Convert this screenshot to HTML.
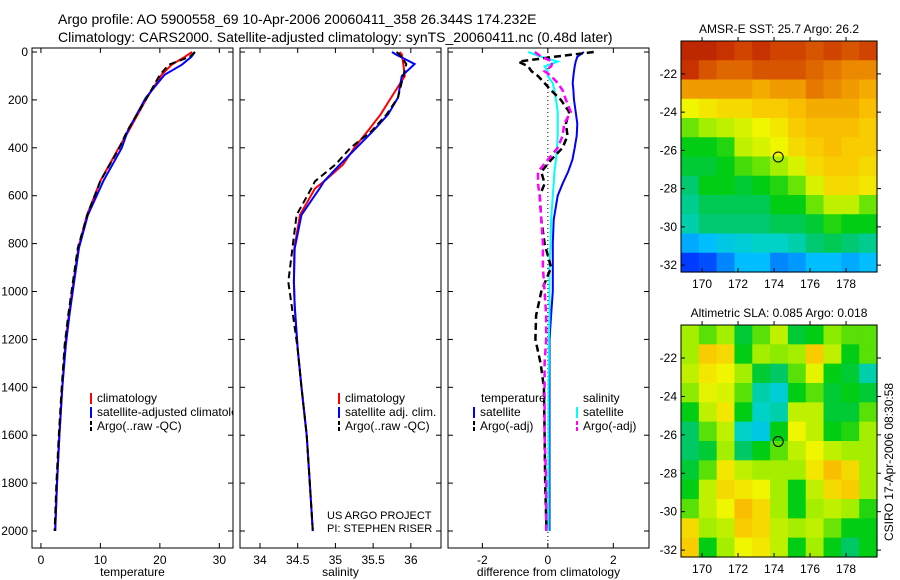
<!DOCTYPE html>
<html><head><meta charset="utf-8"><style>
body{margin:0;background:#fff;}
svg{display:block;font-family:"Liberation Sans",sans-serif;}
</style></head><body>
<svg id="fig" width="900" height="580" viewBox="0 0 900 580">
<defs><clipPath id="clip1"><rect x="32" y="48" width="201" height="500"/></clipPath></defs>
<text x="58" y="24" font-size="14">Argo profile: AO 5900558_69 10-Apr-2006 20060411_358 26.344S 174.232E</text>
<text x="58" y="42" font-size="14">Climatology: CARS2000. Satellite-adjusted climatology: synTS_20060411.nc (0.48d later)</text>
</svg>
<script>
const tempDepth=[0,20,53,95,192,330,400,538,680,818,957,1096,1221,1400,1600,1800,2000];
const tempClim=[25.4,24.2,22.0,20.3,17.8,14.75,13.1,10.0,7.75,6.3,5.5,4.7,4.1,3.6,3.1,2.7,2.4];
const tempSat=[25.9,25.3,23.7,20.8,17.6,14.6,13.6,10.5,7.9,6.4,5.6,4.8,4.2,3.6,3.1,2.7,2.4];
const tempArgo=[25.9,25.0,21.5,20.0,17.8,14.5,13.2,10.0,7.8,6.2,5.4,4.6,4.0,3.5,3.0,2.6,2.3];
const salDepth=[0,10,50,100,190,260,330,400,470,540,570,680,820,960,1060,1240,1400,1600,1800,2000];
const salClim=[35.85,35.88,35.9,35.92,35.74,35.6,35.43,35.25,35.1,34.85,34.73,34.53,34.455,34.45,34.46,34.5,34.55,34.62,34.66,34.7];
const salSat=[35.75,35.8,36.05,35.88,35.83,35.7,35.5,35.28,35.06,34.85,34.79,34.55,34.46,34.45,34.46,34.5,34.55,34.62,34.66,34.7];
const salArgo=[35.81,35.85,35.94,35.9,35.83,35.68,35.48,35.2,35.0,34.73,34.68,34.485,34.43,34.375,34.42,34.5,34.55,34.62,34.66,34.7];
const diffDepth=[0,20,40,60,80,100,130,160,200,250,300,350,400,450,500,550,600,700,800,900,1000,1100,1200,1300,1400,1600,1800,2000];
const diffTempSat=[1.1,0.9,0.85,0.82,0.8,0.78,0.76,0.78,0.8,0.85,0.9,0.88,0.82,0.75,0.62,0.45,0.3,0.18,0.15,0.15,0.15,0.1,0.05,0.05,0.05,0.05,0.05,0.05];
const diffSalSat=[-0.6,-0.2,0.3,-0.1,0.0,0.0,0.15,0.2,0.25,0.3,0.3,0.3,0.28,0.25,0.2,0.18,0.15,0.1,0.08,0.05,0.05,0.05,0.03,0.03,0.02,0.02,0.02,0.02];
const diffTempArgo=[1.4,0.2,-0.9,-0.6,-0.5,-0.3,-0.1,0.1,0.4,0.65,0.55,0.6,0.45,0.1,-0.2,-0.1,-0.25,-0.2,-0.1,0.1,-0.2,-0.36,-0.38,-0.22,-0.12,-0.1,-0.08,-0.04];
const diffSalArgo=[-0.4,-0.2,0.15,0.1,-0.1,0.1,0.3,0.45,0.55,0.7,0.5,0.45,0.3,0.0,-0.3,-0.3,-0.25,-0.2,-0.15,-0.15,-0.1,-0.05,-0.05,-0.1,-0.1,-0.1,-0.05,-0.05];
const depthTicks=[0,200,400,600,800,1000,1200,1400,1600,1800,2000];
const tempTicks=[0,10,20,30];
const salTicks=[34,34.5,35,35.5,36];
const diffTicks=[-2,0,2];
const sstGrid=[
[0.92,0.92,0.9,0.88,0.9,0.88,0.88,0.86,0.88,0.86,0.88],
[0.9,0.86,0.84,0.84,0.86,0.86,0.86,0.84,0.82,0.8,0.8],
[0.78,0.78,0.78,0.78,0.76,0.78,0.78,0.82,0.8,0.78,0.76],
[0.66,0.68,0.7,0.7,0.72,0.72,0.74,0.76,0.76,0.76,0.74],
[0.56,0.6,0.62,0.64,0.66,0.68,0.72,0.74,0.74,0.74,0.72],
[0.5,0.5,0.52,0.62,0.64,0.66,0.7,0.72,0.74,0.72,0.72],
[0.48,0.48,0.5,0.54,0.56,0.6,0.64,0.7,0.72,0.72,0.7],
[0.44,0.5,0.5,0.48,0.5,0.52,0.56,0.64,0.7,0.7,0.68],
[0.42,0.46,0.46,0.46,0.46,0.5,0.5,0.56,0.62,0.62,0.56],
[0.4,0.44,0.44,0.44,0.44,0.46,0.46,0.48,0.52,0.5,0.5],
[0.28,0.3,0.34,0.36,0.38,0.38,0.4,0.44,0.46,0.44,0.42],
[0.16,0.18,0.24,0.3,0.3,0.24,0.26,0.3,0.3,0.28,0.3]];
const slaGrid=[
[0.6,0.55,0.6,0.48,0.55,0.62,0.48,0.5,0.58,0.55,0.55],
[0.6,0.72,0.7,0.5,0.6,0.58,0.6,0.72,0.62,0.5,0.55],
[0.62,0.68,0.66,0.6,0.48,0.45,0.55,0.65,0.5,0.48,0.4],
[0.58,0.65,0.64,0.55,0.4,0.36,0.5,0.55,0.48,0.5,0.48],
[0.5,0.62,0.68,0.5,0.38,0.4,0.62,0.62,0.48,0.48,0.55],
[0.45,0.55,0.62,0.38,0.34,0.5,0.66,0.62,0.5,0.52,0.6],
[0.45,0.48,0.6,0.45,0.5,0.55,0.62,0.66,0.62,0.6,0.6],
[0.48,0.55,0.68,0.62,0.6,0.6,0.6,0.68,0.74,0.7,0.6],
[0.5,0.62,0.7,0.68,0.66,0.6,0.5,0.62,0.7,0.72,0.6],
[0.55,0.62,0.66,0.74,0.7,0.6,0.5,0.6,0.62,0.6,0.52],
[0.7,0.6,0.62,0.72,0.7,0.62,0.6,0.62,0.56,0.5,0.5],
[0.72,0.5,0.6,0.66,0.68,0.62,0.5,0.6,0.5,0.45,0.5]];
const latTicks=[-22,-24,-26,-28,-30,-32];
const lonTicks=[170,172,174,176,178];
const floatLon=174.232, floatLat=-26.344;

const NS="http://www.w3.org/2000/svg";
const svg=document.getElementById('fig');
function mk(tag,attrs,parent){const e=document.createElementNS(NS,tag);for(const k in attrs)e.setAttribute(k,attrs[k]);(parent||svg).appendChild(e);return e;}
function txt(x,y,s,size,anchor,parent){const t=mk('text',{x:x,y:y,'font-size':size,'text-anchor':anchor||'start'},parent);t.textContent=s;return t;}

const Y0=52,Ypx=(531-52)/2000;
function yD(d){return Y0+d*Ypx;}
const panels=[
 {x0:32,x1:233,vmin:-1.5,vmax:32.3,ticks:tempTicks,label:'temperature',name:'temperature'},
 {x0:240,x1:441,vmin:33.735,vmax:36.4,ticks:salTicks,label:'salinity',name:'salinity'},
 {x0:448,x1:649,vmin:-3.05,vmax:3.09,ticks:diffTicks,label:'difference from climatology',name:'difference'}];
panels.forEach(p=>{p.sx=v=>p.x0+(v-p.vmin)/(p.vmax-p.vmin)*(p.x1-p.x0);});

panels.forEach((p,i)=>{
 const g=mk('g',{});
 
 
 mk('rect',{x:p.x0,y:48,width:p.x1-p.x0,height:500,fill:'#fff',stroke:'#000','stroke-width':1},g);
 p.ticks.forEach(v=>{const x=p.sx(v);
  mk('line',{x1:x,y1:48,x2:x,y2:53,stroke:'#000'},g);
  mk('line',{x1:x,y1:548,x2:x,y2:543,stroke:'#000'},g);
  const t=txt(x,564,String(v),12,'middle',g);
  
  });
 depthTicks.forEach(d=>{const y=yD(d);
  mk('line',{x1:p.x0,y1:y,x2:p.x0+5,y2:y,stroke:'#000'},g);
  mk('line',{x1:p.x1,y1:y,x2:p.x1-5,y2:y,stroke:'#000'},g);
  if(i===0){const t=txt(28,y+4,String(d),12,'end',g);
   
   }});
 const xl=txt((p.x0+p.x1)/2,576,p.label,12,'middle',g);
 
 
});

function line(p,vals,depths,color,dash,name,w){
 const pts=vals.map((v,i)=>p.sx(v).toFixed(1)+','+yD(depths[i]).toFixed(1)).join(' ');
 const l=mk('polyline',{points:pts,fill:'none',stroke:color,'stroke-width':w||2,'stroke-dasharray':dash||'none'});
 
 
}
const z=panels[2].sx(0);
const zl=mk('line',{x1:z,y1:48,x2:z,y2:548,stroke:'#000','stroke-dasharray':'1,3'});



line(panels[0],tempClim,tempDepth,'#f00',null,'temperature-climatology-line');
line(panels[0],tempSat,tempDepth,'#00f',null,'temperature-satellite-line');
line(panels[0],tempArgo,tempDepth,'#000','7,4','temperature-argo-line');
line(panels[1],salClim,salDepth,'#f00',null,'salinity-climatology-line');
line(panels[1],salSat,salDepth,'#00f',null,'salinity-satellite-line');
line(panels[1],salArgo,salDepth,'#000','7,4','salinity-argo-line');
line(panels[2],diffTempSat,diffDepth,'#00f',null,'diff-temperature-satellite-line');
line(panels[2],diffSalSat,diffDepth,'#0ff',null,'diff-salinity-satellite-line');
line(panels[2],diffTempArgo,diffDepth,'#000','7,4','diff-temperature-argo-line',2.5);
line(panels[2],diffSalArgo,diffDepth,'#f0f','7,4','diff-salinity-argo-line',2.5);

function legendItem(x,y,color,dash,label,name,clip){
 const g=mk('g',{});
 
 
 if(clip)g.setAttribute('clip-path','url(#'+clip+')');
 mk('line',{x1:x,y1:y-9,x2:x,y2:y+2,stroke:color,'stroke-width':2,'stroke-dasharray':dash||'none'},g);
 txt(x+6,y,label,12,'start',g);
}
legendItem(91,402,'#f00',null,'climatology','legend-climatology','clip1');
legendItem(91,416,'#00f',null,'satellite-adjusted climatology','legend-satellite','clip1');
legendItem(91,430,'#000','4,2','Argo(..raw -QC)','legend-argo','clip1');
legendItem(339,402,'#f00',null,'climatology','legend-sal-climatology');
legendItem(339,416,'#00f',null,'satellite adj. clim.','legend-sal-satellite');
legendItem(339,430,'#000','4,2','Argo(..raw -QC)','legend-sal-argo');
const h1=txt(481,402,'temperature',12);
const h2=txt(583,402,'salinity',12);
legendItem(474,416,'#00f',null,'satellite','legend-diff-temp-satellite');
legendItem(474,430,'#000','4,2','Argo(-adj)','legend-diff-temp-argo');
legendItem(577,416,'#0ff',null,'satellite','legend-diff-sal-satellite');
legendItem(577,430,'#f0f','4,2','Argo(-adj)','legend-diff-sal-argo');
const c1=txt(327,519,'US ARGO PROJECT',11);
const c2=txt(327,532,'PI: STEPHEN RISER',11);

const stops=[[0,[0,0,140]],[0.15,[0,50,255]],[0.3,[0,190,255]],[0.38,[0,210,200]],[0.45,[0,200,100]],[0.5,[0,205,20]],[0.58,[140,235,0]],[0.66,[240,245,0]],[0.74,[250,190,0]],[0.82,[230,120,0]],[0.9,[200,50,0]],[1,[150,0,0]]];
function cmap(v){for(let i=1;i<stops.length;i++){if(v<=stops[i][0]){const a=stops[i-1],b=stops[i],t=(v-a[0])/(b[0]-a[0]);return 'rgb('+a[1].map((c,k)=>Math.round(c+(b[1][k]-c)*t)).join(',')+')';}}return 'rgb(150,0,0)';}

function map(top,bot,grid,title,name){
 const L=681,R=877,lonMin=168.83,lonMax=179.72,latTop=-20.28,latBot=-32.36;
 const sx=lon=>L+(lon-lonMin)/(lonMax-lonMin)*(R-L);
 const sy=lat=>top+(lat-latTop)/(latBot-latTop)*(bot-top);
 const g=mk('g',{});
 
 
 const rows=grid.length,cols=grid[0].length,cw=(R-L)/cols,ch=(bot-top)/rows;
 grid.forEach((row,r)=>row.forEach((v,c)=>{
  const cell=mk('rect',{x:L+c*cw,y:top+r*ch,width:cw+0.6,height:ch+0.6,fill:cmap(v)},g);
  
  }));
 mk('rect',{x:L,y:top,width:R-L,height:bot-top,fill:'none',stroke:'#000'},g);
 latTicks.forEach(l=>{const y=sy(l);
  mk('line',{x1:L,y1:y,x2:L+4,y2:y,stroke:'#000'},g);mk('line',{x1:R,y1:y,x2:R+4,y2:y,stroke:'#000'},g);
  txt(L-4,y+4,String(l),12,'end',g);});
 lonTicks.forEach(l=>{const x=sx(l);
  mk('line',{x1:x,y1:bot,x2:x,y2:bot-4,stroke:'#000'},g);mk('line',{x1:x,y1:top,x2:x,y2:top-4,stroke:'#000'},g);
  txt(x,bot+16,String(l),12,'middle',g);});
 const m=mk('circle',{cx:sx(floatLon),cy:sy(floatLat),r:5,fill:'none',stroke:'#000','stroke-width':1},g);
 
 
 const t=txt((L+R)/2,top-8,title,12,'middle',g);
 
 
}
map(41,272,sstGrid,'AMSR-E SST: 25.7 Argo: 26.2','sst-map');
map(325,557,slaGrid,'Altimetric SLA: 0.085 Argo: 0.018','sla-map');
const ts=txt(0,0,'CSIRO 17-Apr-2006 08:30:58',12,'middle');
ts.setAttribute('transform','translate(893,462) rotate(-90)');


</script>
</body></html>
